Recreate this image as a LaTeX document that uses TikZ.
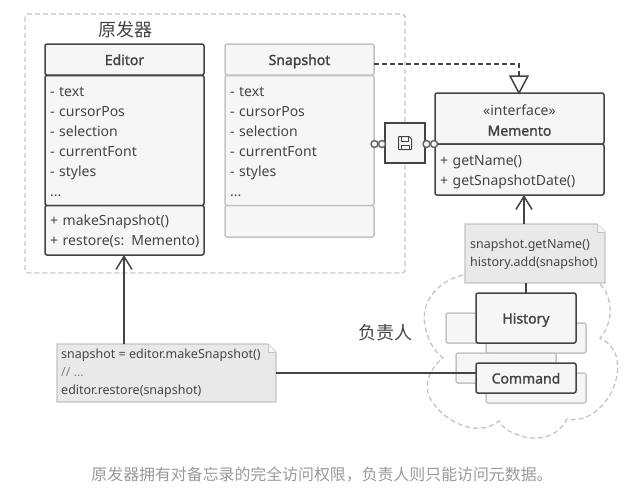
\documentclass[tikz,border=0pt]{standalone}
\usepackage{fontspec}
\setmainfont{Noto Sans}[AutoFakeBold=1.6]
\newfontfamily\cjk{Noto Sans CJK SC}
\usetikzlibrary{arrows.meta}

\definecolor{darkline}{HTML}{444444}
\definecolor{lightline}{HTML}{C4C4C4}
\definecolor{boxfill}{HTML}{F6F6F6}
\definecolor{notefill}{HTML}{E9E9E9}

\tikzset{
  classbox/.style={draw=darkline,fill=boxfill,line width=1.5pt,rounded corners=2pt,anchor=north west,
    inner sep=0pt,inner xsep=5pt,outer sep=0pt,text=darkline,font=\fontsize{14}{20}\selectfont,align=left},
  fadedbox/.style={classbox,draw=lightline},
  title/.style={align=center,font=\fontsize{14}{20}\selectfont\bfseries,text height=13pt,text depth=2pt},
  drop/.style={execute at begin node={\rule{0pt}{#1}}},
  notebox/.style={inner sep=0pt,anchor=west,align=left,text=darkline,font=\fontsize{12.5}{18}\selectfont},
  heading/.style={font=\cjk\fontsize{18}{20}\selectfont,text=darkline},
  pin/.style={circle,draw=darkline!80,line width=1.5pt,minimum size=7pt,inner sep=0pt,fill=boxfill},
  connector/.style={draw=darkline,line width=1.5pt},
  openarrow/.style={-{Straight Barb[length=13pt,width=16pt]}}
}

\begin{document}
\begin{tikzpicture}[x=1pt,y=-1pt]
  \useasboundingbox (0,0) rectangle (624,490);

  % originator border
  \draw[lightline,line width=1.3pt,dashed,dash pattern=on 5pt off 3pt,rounded corners=3pt] (25,14) rectangle (405,273);
  \node[heading] (t1) at (125,30) {原发器};

  % caretaker cloud
  \draw[lightline,line width=1.3pt,dash pattern=on 5pt off 3pt]
    (463,275) .. controls (438,281) and (420,302) .. (425,325) .. controls (427,340) and (435,352) .. (443,358)
    .. controls (430,368) and (423,385) .. (430,398) .. controls (440,418) and (475,440) .. (499,421)
    .. controls (505,435) and (550,452) .. (567,419)
    .. controls (595,425) and (622,390) .. (617,360) .. controls (616,350) and (608,342) .. (600,338)
    .. controls (612,325) and (615,300) .. (600,284);

  % editor
  \node[classbox,title,minimum width=159pt,minimum height=31pt] (ed1) at (45,44) {Editor};
  \node[classbox,drop=13pt,minimum height=130pt,text width=149pt] (ed2) at (45,75.5) {- text\\- cursorPos\\- selection\\- currentFont\\- styles\\...};
  \node[classbox,drop=13pt,minimum height=49.5pt,text width=149pt] (ed3) at (45,205.5) {+ makeSnapshot()\\\mbox{+ restore(s: Memento)}};

  % snapshot
  \node[fadedbox,title,minimum width=149pt,minimum height=31pt] (sn1) at (225,44) {Snapshot};
  \node[fadedbox,drop=13pt,minimum height=130pt,text width=139pt] (sn2) at (225,75.5) {- text\\- cursorPos\\- selection\\- currentFont\\- styles\\...};
  \node[fadedbox,minimum width=149pt,minimum height=31.5pt] (sn3) at (225,205.5) {};

  % memento
  \node[classbox,drop=14.5pt,minimum height=51pt,text width=159pt,align=center] (me1) at (435,93) {«interface»\\\textbf{Memento}};
  \node[classbox,drop=16pt,minimum height=51pt,text width=159pt] (me2) at (435,144) {+ getName()\\+ getSnapshotDate()};

  % lollipop with the save icon
  \node[draw=darkline,fill=boxfill,line width=1.5pt,minimum size=40pt,inner sep=0pt] (ic) at (405,143) {};
  \draw[darkline,line width=1pt,rounded corners=0.5pt] (398.5,136.5) -- (409,136.5) -- (411.5,139) -- (411.5,149.5) -- (398.5,149.5) -- cycle;
  \draw[darkline,line width=1pt] (401,136.5) -- (401,141) -- (408,141) -- (408,136.5) (401,149.5) -- (401,145) -- (409,145) -- (409,149.5);
  \node[pin] (p1) at (374.5,144) {};
  \node[pin] (p2) at (382,144) {};
  \node[pin] (p3) at (426.5,144) {};
  \node[pin] (p4) at (434,144) {};

  % caretaker objects
  \node[fadedbox,minimum width=80pt,minimum height=30pt] (b1) at (446,313) {};
  \node[fadedbox,minimum width=100pt,minimum height=30pt] (b2) at (486,323) {};
  \node[fadedbox,minimum width=100pt,minimum height=30pt] (b3) at (456,353) {};
  \node[fadedbox,minimum width=100pt,minimum height=30pt] (b4) at (486,373) {};
  \node[classbox,title,minimum width=100pt,minimum height=50pt] (hi) at (476,293) {History};
  \node[classbox,title,minimum width=100pt,minimum height=30pt] (co) at (476,363) {Command};
  \node[heading] (t2) at (385,333) {负责人};

  % notes
  \draw[lightline,fill=notefill,line width=1.3pt] (57,344) -- (268,344) -- (276,352) -- (276,402) -- (57,402) -- cycle;
  \draw[lightline,fill=boxfill,line width=1pt] (268,344) -- (268,352) -- (276,352);
  \coordinate (nt1) at (276,373);
  \coordinate (nt1a) at (124,344);
  \node[notebox] (n1) at (61,373) {snapshot = editor.makeSnapshot()\\{\color{gray}// ...}\\editor.restore(snapshot)};

  \draw[lightline,fill=notefill,line width=1.3pt] (465,224) -- (597,224) -- (605,232) -- (605,283) -- (465,283) -- cycle;
  \draw[lightline,fill=boxfill,line width=1pt] (597,224) -- (597,232) -- (605,232);
  \coordinate (nt2) at (524,224);
  \coordinate (nt2a) at (526,283);
  \node[notebox] (n2) at (470,254) {snapshot.getName()\\history.add(snapshot)};

  % connectors
  \draw[connector,openarrow] (nt1a) -- (ed3.south -| nt1a);
  \draw[connector,openarrow] (nt2) -- (me2.south -| nt2);
  \draw[connector] (nt2a) -- (hi.north -| nt2a);
  \draw[connector] (nt1) -- (co.west |- nt1);
  \coordinate (bend) at (519,64);
  \draw[connector,dash pattern=on 5pt off 3pt] (sn1.east |- bend) -- (bend) -- (bend |- 0,76);
  \draw[connector,fill=white,line join=miter] (510,76) -- (528,76) -- (bend |- me1.north) -- cycle;

  \node[font=\cjk\fontsize{15.9}{20}\selectfont,text=gray!80] (cap) at (322,475) {原发器拥有对备忘录的完全访问权限，负责人则只能访问元数据。};
\end{tikzpicture}
\end{document}
